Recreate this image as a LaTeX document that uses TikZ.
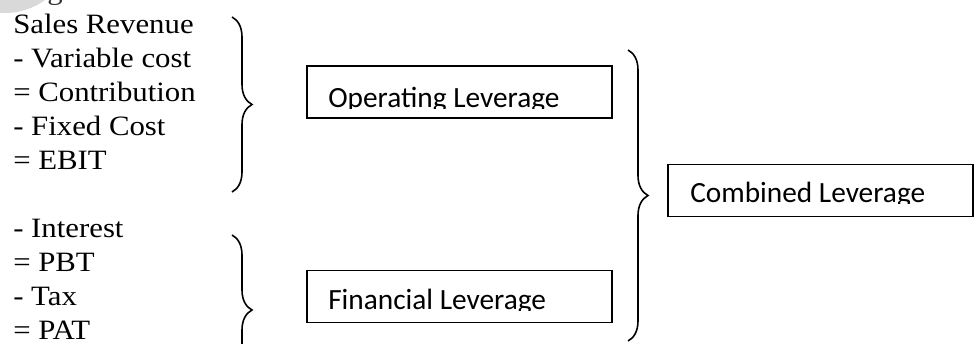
\documentclass[tikz,border=0pt]{standalone}
\usepackage{fontspec}
\newfontfamily\calibri{Carlito}
\newfontfamily\cambria{Liberation Serif}[FakeStretch=1.1]
\usepackage{tikz}
\usetikzlibrary{decorations.pathreplacing}
\usetikzlibrary{positioning}
\definecolor{stampgrey}{HTML}{D9D9D9}
\tikzstyle{sums} = [inner sep=0pt, anchor=base west, font=\cambria\fontsize{21}{25.5}\selectfont]
\tikzstyle{lever} = [rectangle, minimum width=228.75pt, minimum height=39pt, draw=black, line width=1pt]
\tikzstyle{levertext} = [inner sep=0pt, anchor=base west, font=\calibri\fontsize{22}{26}\selectfont]
\tikzstyle{curly} = [decorate, decoration={brace, amplitude=15pt}, line width=1.2pt]

\begin{document}
\begin{tikzpicture}[x=0.75pt, y=-0.75pt]
\useasboundingbox (0,0) rectangle (975,343);
\clip (0,0) rectangle (975,343);
\fill[stampgrey] (5,-55) circle (51pt);
\node (cut) [sums, text=black!80] at (47,-1) {g};

\node (costs) [sums] at (13,33) {
\begin{tabular}[t]{@{}l@{}}
  Sales Revenue\\
  - Variable cost\\
  = Contribution\\
  - Fixed Cost\\
  = EBIT
\end{tabular}};
\node (profits) [sums] at (13,237) {
\begin{tabular}[t]{@{}l@{}}
  - Interest\\
  = PBT\\
  - Tax\\
  = PAT
\end{tabular}};

\node (oper) [lever] at (459.5,92) {};
\node (fin) [lever] at (459.5,296.5) {};
\node (comb) [lever] at (820.5,190.5) {};

% labels are cut off just under the line
\begin{scope}
  \clip (307,66) rectangle (612,108);
  \node (opertext) [levertext] at (328,107) {Operating Leverage};
\end{scope}
\begin{scope}
  \clip (307,270) rectangle (612,310);
  \node (fintext) [levertext] at (328,309) {Financial Leverage};
\end{scope}
\begin{scope}
  \clip (668,164) rectangle (973,203);
  \node (combtext) [levertext] at (690,202) {Combined Leverage};
\end{scope}

\coordinate (costtop) at (232,17);
\coordinate (costbot) at (232,192);
\coordinate (profittop) at (232,235);
\coordinate (profitbot) at (232,385);
\coordinate (levertop) at (628,50);
\coordinate (leverbot) at (628,341);
\draw[curly] (costtop) -- (costbot);
\draw[curly] (profittop) -- (profitbot);
\draw[curly] (levertop) -- (leverbot);
\end{tikzpicture}
\end{document}
